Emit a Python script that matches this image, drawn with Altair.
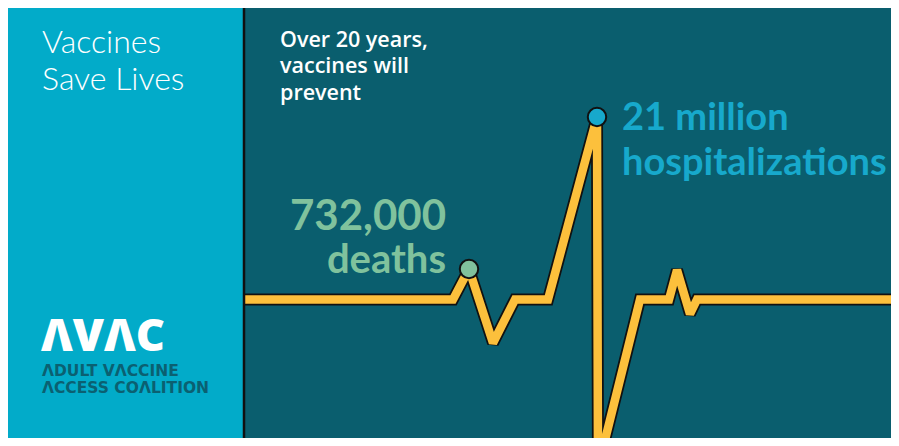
import altair as alt
import pandas as pd

# ECG-style trace: horizontal position and amplitude above the baseline
trace_t = [235, 445, 461, 485, 507, 540, 589, 590, 632, 661, 669, 682, 689, 883]
trace_v = [0, 0, 30.5, -43.5, 0, 0, 182.5, -168.5, 0, 0, 29.5, -14.5, 0, 0]

# highlighted peaks
marker_t = [461, 589]
marker_v = [30.5, 182.5]
marker_label = ["deaths", "hospitalizations"]
marker_color = ["#80c29d", "#17a9cc"]

title_lines = ["Vaccines", "Save Lives"]
intro_lines = ["Over 20 years,", "vaccines will", "prevent"]
deaths_lines = ["732,000", "deaths"]
hosp_lines = ["21 million", "hospitalizations"]
logo_mark = "ΛVΛC"
logo_lines = ["ΛDULT VΛCCINE", "ΛCCESS COΛLITION"]

W, H = 883, 430
CYAN = "#02abc9"
DARK = "#0a5e6e"
YELLOW = "#fcc03c"

trace_df = pd.DataFrame({"t": trace_t, "v": trace_v, "i": list(range(len(trace_t)))})
marker_df = pd.DataFrame({"t": marker_t, "v": marker_v, "label": marker_label})
one = pd.DataFrame({"k": [0]})

xs = alt.Scale(domain=[0, W], nice=False, zero=False)
ys = alt.Scale(domain=[-138.5, 291.5], nice=False, zero=False)

panel = alt.Chart(one).mark_rect(color=CYAN).encode(
    x=alt.value(0), x2=alt.value(235), y=alt.value(0), y2=alt.value(H))
sep = alt.Chart(one).mark_rule(color="#111111", strokeWidth=2.5).encode(
    x=alt.value(236), y=alt.value(0), y2=alt.value(H))

base = alt.Chart(trace_df).encode(
    x=alt.X("t:Q", scale=xs, axis=None),
    y=alt.Y("v:Q", scale=ys, axis=None),
    order="i:O",
)
outline = base.mark_line(color="#111111", strokeWidth=12, clip=True,
                         strokeJoin="miter", strokeMiterLimit=2)
inner = base.mark_line(color=YELLOW, strokeWidth=8.5, clip=True,
                       strokeJoin="miter", strokeMiterLimit=2)

points = alt.Chart(marker_df).mark_circle(size=340, opacity=1, stroke="#111111",
                                          strokeWidth=2).encode(
    x=alt.X("t:Q", scale=xs, axis=None),
    y=alt.Y("v:Q", scale=ys, axis=None),
    fill=alt.Fill("label:N", scale=alt.Scale(domain=marker_label, range=marker_color),
                  legend=None),
)


def txt(s, x, y, size, color, weight, align="left", font="Lato"):
    return alt.Chart(one).mark_text(
        text=s, align=align, baseline="alphabetic", fontSize=size,
        fontWeight=weight, font=font, color=color,
    ).encode(x=alt.value(x), y=alt.value(y))


texts = [
    txt(title_lines[0], 34, 45, 32, "white", 300),
    txt(title_lines[1], 34, 82, 32, "white", 300),
    txt(intro_lines[0], 272, 39, 21.5, "white", 600, font="Open Sans"),
    txt(intro_lines[1], 272, 65, 21.5, "white", 600, font="Open Sans"),
    txt(intro_lines[2], 272, 92, 21.5, "white", 600, font="Open Sans"),
    txt(deaths_lines[0], 438, 222, 42, marker_color[0], "bold", align="right"),
    txt(deaths_lines[1], 438, 265, 40, marker_color[0], "bold", align="right"),
    txt(hosp_lines[0], 614, 122, 38, marker_color[1], "bold"),
    txt(hosp_lines[1], 614, 167, 38, marker_color[1], "bold"),
    txt(logo_mark, 33, 343, 45, "white", 900, font="Noto Sans"),
    txt(logo_lines[0], 34, 368, 15.5, "#0b6071", "bold", font="DejaVu Sans"),
    txt(logo_lines[1], 34, 385, 15.5, "#0b6071", "bold", font="DejaVu Sans"),
]

chart = alt.layer(panel, outline, inner, sep, points, *texts).properties(
    width=W, height=H, background=DARK, padding=0, autosize="none",
).configure_view(stroke=None)

chart.save("out.html", embed_options={"renderer": "svg", "actions": False})
